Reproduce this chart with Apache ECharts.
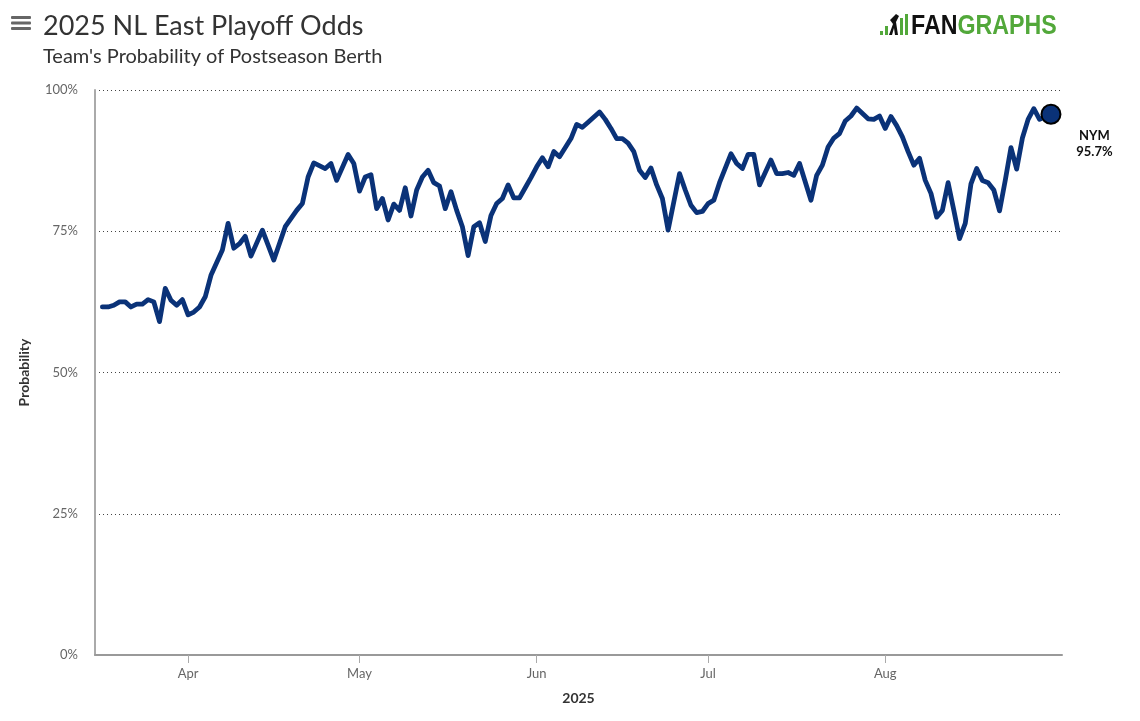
<!DOCTYPE html>
<html><head><meta charset="utf-8">
<script src="https://cdn.jsdelivr.net/npm/echarts@6/dist/echarts.min.js"></script>
<style>html,body{margin:0;padding:0;background:#fff}#c{width:1140px;height:721px}</style>
</head><body><div id="c"></div>
<script>
// ---- data ----
const dates = [
'2025-03-17','2025-03-18','2025-03-19','2025-03-20','2025-03-21','2025-03-22','2025-03-23','2025-03-24','2025-03-25','2025-03-26',
'2025-03-27','2025-03-28','2025-03-29','2025-03-30','2025-03-31',
'2025-04-01','2025-04-02','2025-04-03','2025-04-04','2025-04-05','2025-04-07','2025-04-08','2025-04-09','2025-04-10','2025-04-11',
'2025-04-12','2025-04-14','2025-04-16','2025-04-18','2025-04-20','2025-04-21','2025-04-22','2025-04-23','2025-04-25','2025-04-26',
'2025-04-27','2025-04-29','2025-04-30',
'2025-05-01','2025-05-02','2025-05-03','2025-05-04','2025-05-05','2025-05-06','2025-05-07','2025-05-08','2025-05-09','2025-05-10',
'2025-05-11','2025-05-12','2025-05-13','2025-05-14','2025-05-15','2025-05-16','2025-05-17','2025-05-18','2025-05-19','2025-05-20',
'2025-05-21','2025-05-22','2025-05-23','2025-05-24','2025-05-25','2025-05-26','2025-05-27','2025-05-28','2025-05-29','2025-05-30',
'2025-05-31',
'2025-06-01','2025-06-02','2025-06-03','2025-06-04','2025-06-05','2025-06-07','2025-06-08','2025-06-09','2025-06-10','2025-06-12',
'2025-06-13','2025-06-14','2025-06-15','2025-06-16','2025-06-17','2025-06-18','2025-06-19','2025-06-20','2025-06-21','2025-06-22',
'2025-06-23','2025-06-24','2025-06-25','2025-06-26','2025-06-27','2025-06-28','2025-06-29','2025-06-30',
'2025-07-01','2025-07-02','2025-07-03','2025-07-05','2025-07-06','2025-07-07','2025-07-08','2025-07-09','2025-07-10','2025-07-12',
'2025-07-13','2025-07-14','2025-07-15','2025-07-16','2025-07-17','2025-07-19','2025-07-20','2025-07-21','2025-07-22','2025-07-23',
'2025-07-24','2025-07-25','2025-07-26','2025-07-27','2025-07-29','2025-07-30','2025-07-31',
'2025-08-01','2025-08-02','2025-08-03','2025-08-04','2025-08-05','2025-08-06','2025-08-07','2025-08-08','2025-08-09','2025-08-10',
'2025-08-11','2025-08-12','2025-08-13','2025-08-14','2025-08-15','2025-08-16','2025-08-17','2025-08-18','2025-08-19','2025-08-20',
'2025-08-21','2025-08-22','2025-08-23','2025-08-24','2025-08-25','2025-08-26','2025-08-27','2025-08-28','2025-08-30'
];
const probs = [
61.6,61.6,61.9,62.5,62.5,61.6,62.1,62.1,62.9,62.5,
59.0,64.9,62.8,61.9,62.9,
60.2,60.7,61.6,63.4,67.2,71.7,76.4,72.0,72.8,74.1,
70.6,75.2,69.9,75.8,78.7,79.9,84.6,87.1,86.1,87.0,
84.0,88.6,87.0,
82.1,84.6,85.0,79.0,80.8,77.0,79.8,78.7,82.7,77.7,
82.3,84.6,85.8,83.6,83.0,79.0,82.0,78.7,75.8,70.7,
75.8,76.5,73.2,77.8,79.9,80.8,83.2,80.9,80.9,82.7,
84.5,
86.4,88.0,86.4,89.1,88.2,91.4,93.9,93.4,94.3,96.1,
94.8,93.2,91.4,91.4,90.6,89.1,85.8,84.5,86.2,83.2,
80.8,75.2,80.2,85.2,82.3,79.6,78.3,78.5,
79.9,80.5,83.6,88.7,87.0,86.1,88.6,88.6,83.2,87.6,
85.2,85.2,85.4,84.9,87.0,80.5,84.9,86.7,89.9,91.5,
92.3,94.5,95.4,96.8,94.9,94.8,95.4,
93.2,95.3,93.7,91.7,89.1,86.7,87.9,84.0,81.7,77.5,
78.7,83.6,78.7,73.7,76.4,83.4,86.1,84.0,83.6,82.3,
78.6,84.0,89.8,86.0,91.5,94.8,96.7,94.8,95.7
];
const teamName = 'NYM';
const monthTicks = ['2025-04-01','2025-05-01','2025-06-01','2025-07-01','2025-08-01'];
const monthLabels = ['Apr','May','Jun','Jul','Aug'];
const yTicks = [0, 25, 50, 75, 100];

// ---- chart ----
const P = s => +echarts.time.parse(s);
const tickTs = monthTicks.map(P);
const NAVY = '#0a3278';
const GREEN = '#52a83a';
const FONT = 'Lato, "Open Sans", sans-serif';
const pts = dates.map((d, i) => [P(d), probs[i]]);

const chart = echarts.init(document.getElementById('c'), null, {renderer: 'canvas'});
chart.setOption({
  animation: false,
  backgroundColor: '#fff',
  title: {
    text: '2025 NL East Playoff Odds',
    subtext: "Team's Probability of Postseason Berth",
    left: 43, top: 13, itemGap: 7, padding: 0,
    textStyle: {fontFamily: FONT, fontSize: 27, fontWeight: 'normal', color: '#333'},
    subtextStyle: {fontFamily: FONT, fontSize: 20, color: '#333'}
  },
  grid: {left: 95, right: 78, top: 90, bottom: 66, containLabel: false},
  xAxis: {
    type: 'value',
    min: P('2025-03-15 17:00'),
    max: P('2025-08-31 22:20'),
    name: '2025', nameLocation: 'middle', nameGap: 36,
    nameTextStyle: {fontFamily: FONT, fontSize: 14, fontWeight: 'bold', color: '#333'},
    axisLine: {show: true, lineStyle: {color: '#999', width: 2}},
    axisTick: {show: true, customValues: tickTs, length: 8, lineStyle: {color: '#aaa'}},
    axisLabel: {
      customValues: tickTs, margin: 12, color: '#666', fontFamily: FONT, fontSize: 13,
      formatter: v => { const i = tickTs.indexOf(+v); return i >= 0 ? monthLabels[i] : ''; }
    },
    splitLine: {show: false}
  },
  yAxis: {
    type: 'value', min: 0, max: 100, interval: 25,
    name: 'Probability', nameLocation: 'middle', nameGap: 64,
    nameTextStyle: {fontFamily: FONT, fontSize: 14, fontWeight: 'bold', color: '#333'},
    axisLine: {show: true, lineStyle: {color: '#aaa', width: 2}},
    axisTick: {show: false},
    axisLabel: {
      margin: 17, color: '#666', fontFamily: FONT, fontSize: 13,
      formatter: v => yTicks.includes(v) ? v + '%' : ''
    },
    splitLine: {show: true, lineStyle: {color: '#444', type: [1, 3], width: 1}}
  },
  series: [
    {
      type: 'line', name: teamName,
      data: pts,
      showSymbol: false, symbol: 'none',
      lineStyle: {color: NAVY, width: 4.8, join: 'round', cap: 'round'},
      itemStyle: {color: NAVY}, z: 3
    },
    {
      type: 'scatter', name: teamName + ' last',
      data: [pts[pts.length - 1]],
      symbolSize: 19,
      itemStyle: {color: NAVY, borderColor: '#000', borderWidth: 2, opacity: 1},
      label: {
        show: true, position: [54, 24], align: 'center', verticalAlign: 'top',
        formatter: p => teamName + '\n' + p.value[1].toFixed(1) + '%',
        fontFamily: FONT, fontSize: 13, fontWeight: 'bold', color: '#111', lineHeight: 16
      },
      z: 5
    }
  ],
  graphic: [
    {type: 'rect', shape: {x: 11, y: 16, width: 20, height: 3, r: 1}, style: {fill: '#666'}},
    {type: 'rect', shape: {x: 11, y: 21.5, width: 20, height: 3, r: 1}, style: {fill: '#666'}},
    {type: 'rect', shape: {x: 11, y: 27, width: 20, height: 3, r: 1}, style: {fill: '#666'}},
    {type: 'rect', shape: {x: 880, y: 31, width: 3, height: 4}, style: {fill: GREEN}},
    {type: 'rect', shape: {x: 885, y: 26, width: 3, height: 9}, style: {fill: GREEN}},
    {type: 'rect', shape: {x: 900, y: 18, width: 3, height: 17}, style: {fill: GREEN}},
    {type: 'rect', shape: {x: 905, y: 14, width: 3, height: 21}, style: {fill: GREEN}},
    {type: 'polygon', shape: {points: [[889,35],[893,24],[890,20],[896,14],[899,16],[896,22],[898,35],[895,35],[894,28],[892,35]]}, style: {fill: '#111'}},
    {type: 'text', x: 911, y: 13, scaleX: 0.86,
     style: {text: '{a|FAN}{b|GRAPHS}', rich: {
       a: {fontFamily: 'Liberation Sans, Arial, sans-serif', fontSize: 27, fontWeight: 'bold', fill: '#111'},
       b: {fontFamily: 'Liberation Sans, Arial, sans-serif', fontSize: 27, fontWeight: 'bold', fill: GREEN}
     }}}
  ]
});
</script></body></html>
